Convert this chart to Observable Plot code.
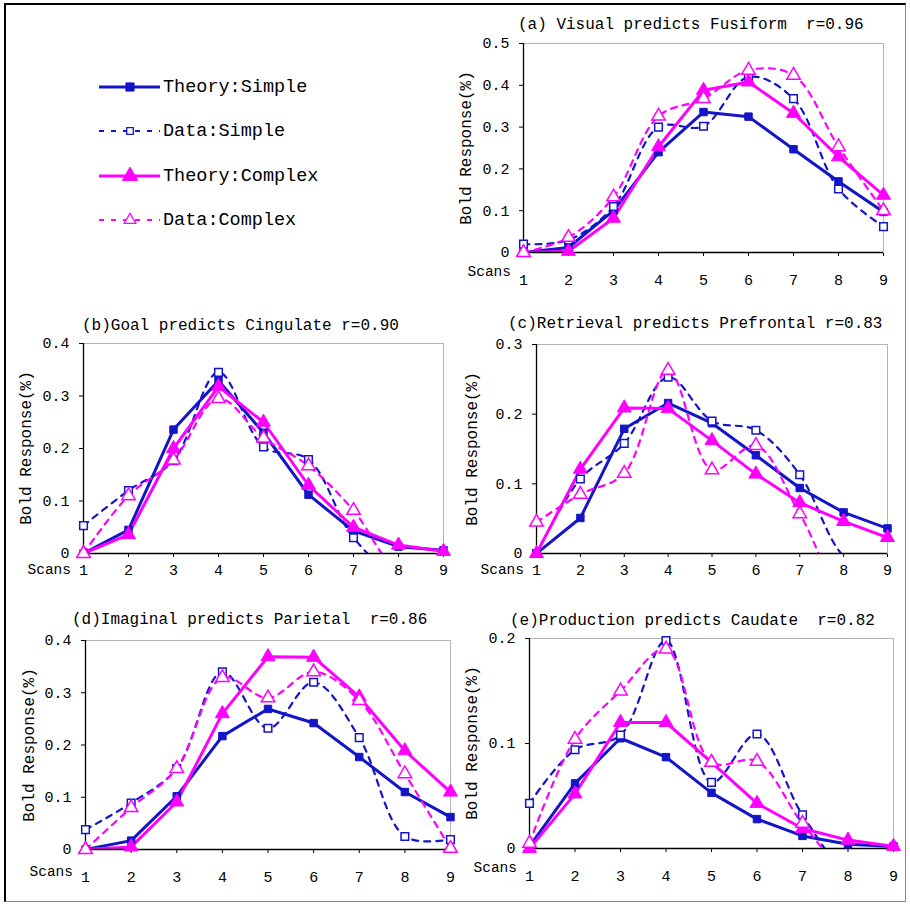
<!DOCTYPE html>
<html>
<head>
<meta charset="utf-8">
<script src="https://cdn.jsdelivr.net/npm/d3@7"></script>
<script src="https://cdn.jsdelivr.net/npm/@observablehq/plot@0.6"></script>
<style>
  html, body { margin: 0; padding: 0; background: #fff; }
  #page { position: relative; width: 910px; height: 907px; background: #fff; overflow: hidden;
          font-family: "Liberation Mono", "DejaVu Sans Mono", monospace; color: #000; }
  #border { position: absolute; left: 4px; top: 3px; width: 902px; height: 899px; box-sizing: border-box;
            border-left: 2px solid #000; border-top: 2px solid #000; border-right: 1px solid #888; border-bottom: 1px solid #888; }
  .t { position: absolute; white-space: pre; line-height: 1; }
  .title { font-size: 16px; }
  .ylab { font-size: 16px; transform: translate(-50%, -50%) rotate(-90deg); }
  .scans { font-size: 14.5px; transform: translate(-100%, -50%); }
  .panel { position: absolute; }
  .leg { position: absolute; left: 96px; height: 30px; display: flex; align-items: center; }
  .leg span { font-size: 18.5px; margin-left: 1px; }
</style>
</head>
<body>
<div id="page"><div id="border"></div></div>
<script>
// ---------------- data ----------------
const scans = [1, 2, 3, 4, 5, 6, 7, 8, 9];
const seriesNames = ["Theory:Simple", "Data:Simple", "Theory:Complex", "Data:Complex"];

// (a) Visual predicts Fusiform
const aTheorySimple  = [0.000, 0.012, 0.100, 0.240, 0.336, 0.325, 0.247, 0.170, 0.097];
const aDataSimple    = [0.020, 0.030, 0.110, 0.300, 0.302, 0.420, 0.368, 0.152, 0.062];
const aTheoryComplex = [0.000, 0.003, 0.082, 0.253, 0.388, 0.408, 0.333, 0.229, 0.137];
const aDataComplex   = [0.000, 0.036, 0.133, 0.326, 0.368, 0.436, 0.424, 0.253, 0.100];

// (b) Goal predicts Cingulate
const bTheorySimple  = [0.000, 0.045, 0.236, 0.329, 0.230, 0.112, 0.043, 0.013, 0.006];
const bDataSimple    = [0.053, 0.120, 0.177, 0.345, 0.203, 0.179, 0.030, -0.040, -0.020];
const bTheoryComplex = [0.000, 0.036, 0.200, 0.318, 0.250, 0.130, 0.050, 0.016, 0.004];
const bDataComplex   = [0.000, 0.110, 0.178, 0.295, 0.220, 0.167, 0.082, -0.030, -0.020];

// (c) Retrieval predicts Prefrontal
const cTheorySimple  = [0.000, 0.051, 0.179, 0.216, 0.187, 0.141, 0.094, 0.059, 0.036];
const cDataSimple    = [0.000, 0.107, 0.158, 0.253, 0.190, 0.177, 0.113, -0.004, -0.040];
const cTheoryComplex = [0.000, 0.121, 0.209, 0.208, 0.162, 0.114, 0.073, 0.046, 0.023];
const cDataComplex   = [0.045, 0.085, 0.115, 0.263, 0.120, 0.155, 0.057, -0.050, -0.030];

// (d) Imaginal predicts Parietal
const dTheorySimple  = [0.000, 0.017, 0.102, 0.217, 0.269, 0.242, 0.177, 0.110, 0.062];
const dDataSimple    = [0.038, 0.089, 0.155, 0.340, 0.232, 0.320, 0.214, 0.025, 0.019];
const dTheoryComplex = [0.000, 0.005, 0.091, 0.260, 0.369, 0.368, 0.292, 0.189, 0.110];
const dDataComplex   = [0.000, 0.080, 0.155, 0.329, 0.290, 0.340, 0.285, 0.145, 0.002];

// (e) Production predicts Caudate
const eTheorySimple  = [0.002, 0.062, 0.105, 0.087, 0.053, 0.028, 0.012, 0.004, 0.002];
const eDataSimple    = [0.043, 0.094, 0.108, 0.198, 0.063, 0.109, 0.032, -0.020, -0.010];
const eTheoryComplex = [0.000, 0.052, 0.120, 0.120, 0.082, 0.043, 0.019, 0.008, 0.002];
const eDataComplex   = [0.005, 0.104, 0.150, 0.190, 0.082, 0.083, 0.024, -0.020, -0.010];

const panelTitles = [
  "(a) Visual predicts Fusiform  r=0.96",
  "(b)Goal predicts Cingulate r=0.90",
  "(c)Retrieval predicts Prefrontal r=0.83",
  "(d)Imaginal predicts Parietal  r=0.86",
  "(e)Production predicts Caudate  r=0.82"
];
const yTicksA = [0, 0.1, 0.2, 0.3, 0.4, 0.5];
const yTicksB = [0, 0.1, 0.2, 0.3, 0.4];
const yTicksC = [0, 0.1, 0.2, 0.3];
const yTicksD = [0, 0.1, 0.2, 0.3, 0.4];
const yTicksE = [0, 0.1, 0.2];
const yLabel = "Bold Response(%)";
const xLabel = "Scans";

// ---------------- styles ----------------
const BLUE = "#1414c8";
const MAGENTA = "#ff00ff";
const styles = {
  "Theory:Simple":  {stroke: BLUE,    width: 3,   dash: null,  symbol: "square",   fill: BLUE,    r: 4.2, curve: "linear"},
  "Data:Simple":    {stroke: BLUE,    width: 2.2, dash: "6,6", symbol: "square",   fill: "white", r: 4.3, curve: "catmull-rom"},
  "Theory:Complex": {stroke: MAGENTA, width: 3,   dash: null,  symbol: "triangle", fill: MAGENTA, r: 5.2, curve: "linear"},
  "Data:Complex":   {stroke: MAGENTA, width: 2.2, dash: "6,6", symbol: "triangle", fill: "white", r: 5.0, curve: "catmull-rom"}
};

function table(arrs) {
  const rows = [];
  seriesNames.forEach((s, k) => scans.forEach((x, i) => rows.push({series: s, x, y: arrs[k][i]})));
  return rows;
}

const panels = [
  {title: panelTitles[0], rows: table([aTheorySimple, aDataSimple, aTheoryComplex, aDataComplex]),
   ymax: 0.5, yticks: yTicksA, left: 523, right: 883, top: 43, bottom: 252, xpad: 18,
   titleX: 518, titleY: 25, ylabX: 467, scansY: 272},
  {title: panelTitles[1], rows: table([bTheorySimple, bDataSimple, bTheoryComplex, bDataComplex]),
   ymax: 0.4, yticks: yTicksB, left: 83, right: 443, top: 343, bottom: 553, xpad: 7,
   titleX: 82, titleY: 326, ylabX: 27, scansY: 570},
  {title: panelTitles[2], rows: table([cTheorySimple, cDataSimple, cTheoryComplex, cDataComplex]),
   ymax: 0.3, yticks: yTicksC, left: 536, right: 887, top: 344, bottom: 553, xpad: 7,
   titleX: 508, titleY: 324, ylabX: 473, scansY: 570},
  {title: panelTitles[3], rows: table([dTheorySimple, dDataSimple, dTheoryComplex, dDataComplex]),
   ymax: 0.4, yticks: yTicksD, left: 85, right: 450, top: 640, bottom: 849, xpad: 18,
   titleX: 72, titleY: 620, ylabX: 30, scansY: 872},
  {title: panelTitles[4], rows: table([eTheorySimple, eDataSimple, eTheoryComplex, eDataComplex]),
   ymax: 0.2, yticks: yTicksE, left: 529, right: 893, top: 638, bottom: 848, xpad: 18,
   titleX: 510, titleY: 621, ylabX: 473, scansY: 868}
];

const page = document.getElementById("page");
const ML = 45, MR = 16, MT = 12, MB = 40;

function addText(cls, txt, x, y) {
  const d = document.createElement("div");
  d.className = "t " + cls;
  d.textContent = txt;
  d.style.left = x + "px";
  d.style.top = y + "px";
  page.appendChild(d);
  return d;
}

for (const p of panels) {
  const w = p.right - p.left, h = p.bottom - p.top;
  const marks = [Plot.frame({stroke: "#b4b4b4", strokeWidth: 1})];
  for (const s of seriesNames) {
    const st = styles[s];
    marks.push(Plot.line(p.rows, {
      filter: d => d.series === s, x: "x", y: "y", stroke: st.stroke, strokeWidth: st.width,
      strokeDasharray: st.dash || undefined, curve: st.curve, clip: true
    }));
  }
  marks.push(Plot.ruleX([1], {stroke: "#000", strokeWidth: 1.3}));
  marks.push(Plot.ruleY([0], {stroke: "#000", strokeWidth: 1.3}));
  for (const s of seriesNames) {
    const st = styles[s];
    marks.push(Plot.dot(p.rows, {
      filter: d => d.series === s && d.y >= 0, x: "x", y: "y", symbol: st.symbol, r: st.r,
      fill: st.fill, stroke: st.stroke, strokeWidth: st.fill === "white" ? 1.5 : 1
    }));
  }
  const chart = Plot.plot({
    width: ML + w + MR, height: MT + h + MB,
    marginLeft: ML, marginRight: MR, marginTop: MT, marginBottom: MB,
    style: {background: "transparent", fontFamily: "'Liberation Mono', monospace", fontSize: "15px", color: "#000", overflow: "visible"},
    x: {domain: [1, 9], ticks: scans, tickFormat: d => String(d), tickSize: 4, tickPadding: p.xpad, label: null},
    y: {domain: [0, p.ymax], ticks: p.yticks, tickFormat: d => d === 0 ? "0" : d.toFixed(1), tickSize: 4, tickPadding: 10, label: null},
    marks
  });
  chart.classList.add("panel");
  chart.style.left = (p.left - ML) + "px";
  chart.style.top = (p.top - MT) + "px";
  page.appendChild(chart);

  const tt = addText("title", p.title, p.titleX, p.titleY);
  tt.style.transform = "translateY(-50%)";
  addText("ylab", yLabel, p.ylabX, (p.top + p.bottom) / 2);
  addText("scans", xLabel, p.left - 12, p.scansY);
}

// ---------------- legend ----------------
const legendY = [87, 131, 176, 220];
seriesNames.forEach((s, k) => {
  const st = styles[s];
  const row = document.createElement("div");
  row.className = "leg";
  row.style.top = (legendY[k] - 15) + "px";
  const ns = "http://www.w3.org/2000/svg";
  const svg = document.createElementNS(ns, "svg");
  svg.setAttribute("width", 66); svg.setAttribute("height", 30);
  const ln = document.createElementNS(ns, "line");
  ln.setAttribute("x1", 3); ln.setAttribute("x2", 64); ln.setAttribute("y1", 15); ln.setAttribute("y2", 15);
  ln.setAttribute("stroke", st.stroke); ln.setAttribute("stroke-width", st.width);
  if (st.dash) ln.setAttribute("stroke-dasharray", "5,7");
  svg.appendChild(ln);
  const sym = document.createElementNS(ns, "path");
  const size = Math.PI * st.r * st.r * (st.fill === "white" ? 0.75 : 1.2);
  sym.setAttribute("d", d3.symbol(st.symbol === "square" ? d3.symbolSquare : d3.symbolTriangle, size)());
  sym.setAttribute("transform", "translate(34,15)");
  sym.setAttribute("fill", st.fill); sym.setAttribute("stroke", st.stroke);
  sym.setAttribute("stroke-width", st.fill === "white" ? 1.3 : 1);
  svg.appendChild(sym);
  row.appendChild(svg);
  const sp = document.createElement("span");
  sp.textContent = s;
  row.appendChild(sp);
  page.appendChild(row);
});
</script>
</body>
</html>
